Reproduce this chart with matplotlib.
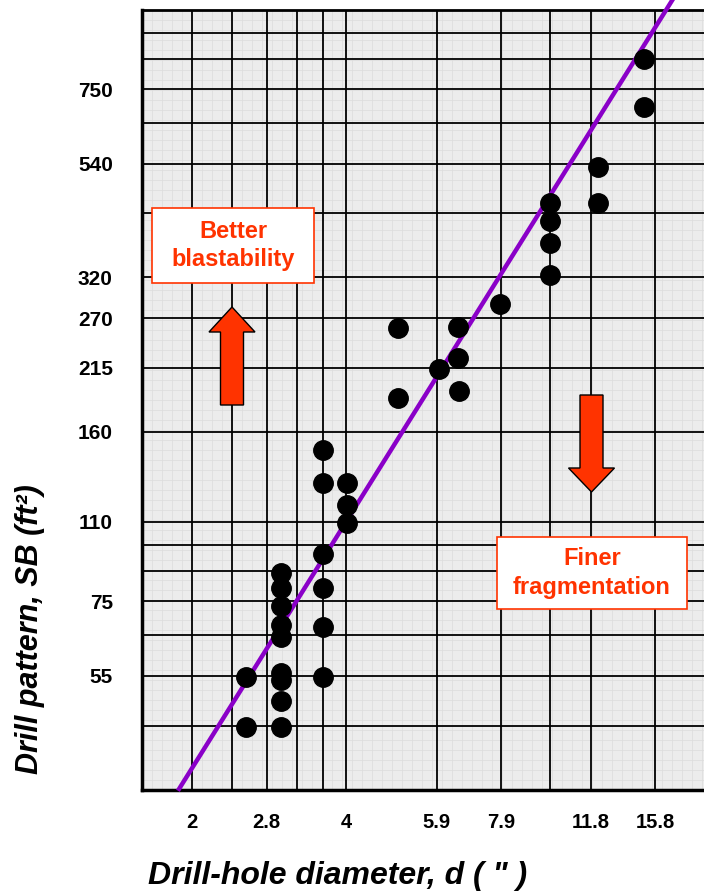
import matplotlib
matplotlib.use("Agg")
import matplotlib.pyplot as plt
from matplotlib.patches import Polygon, Rectangle
import numpy as np

plt.rcParams['font.family'] = ['Liberation Sans', 'DejaVu Sans']

# blast holes: diameter (inches) and drill pattern (ft^2)
hole_d = [15.0, 15.0, 12.2, 12.2, 9.84, 9.84, 9.84, 9.84, 7.84,
          4.97, 6.49, 6.49, 5.96, 4.97, 6.52,
          3.54, 3.54, 3.95, 3.95, 3.95, 3.54,
          2.94, 2.94, 3.54, 2.94, 2.94, 3.54, 2.94,
          2.51, 2.94, 2.94, 2.94, 3.54, 2.51, 2.94]
pattern_sb = [862, 695, 531, 451, 451, 416, 377, 327, 287,
              257, 259, 225, 214, 188, 194,
              149, 128, 128, 116, 107, 93,
              85.5, 80, 80, 73.7, 67.7, 67.1, 64.1,
              53.6, 54.5, 52.8, 48.1, 53.6, 42.8, 42.8]

# trend line end points
line_d = [1.86, 17.0]
line_sb = [32.4, 1124]

# graph paper is metric underneath (mm and m^2), labelled in inches / ft^2
x_grid_mm = [50, 60, 70, 80, 90, 100, 150, 200, 250, 300, 400]
x_tick_mm = [50, 70, 100, 150, 200, 300, 400]
x_tick_labels = ["2", "2.8", "4", "5.9", "7.9", "11.8", "15.8"]
y_grid_m2 = [4, 5, 6, 7, 8, 9, 10, 15, 20, 25, 30, 40, 50, 60, 70, 80, 90]
y_tick_m2 = [5, 7, 10, 15, 20, 25, 30, 50, 70]
y_tick_labels = ["55", "75", "110", "160", "215", "270", "320", "540", "750"]
x_lim_mm = [40, 500]
y_lim_m2 = [3, 100]

MM_PER_IN = 25.4
FT2_PER_M2 = 10.764

W, H = 704, 892
RED = '#ff3300'


def fx(px):
    return px / W


def fy(py):
    return 1 - py / H


fig = plt.figure(figsize=(W / 100, H / 100), dpi=100)
rect = [fx(142), fy(789.6), (705 - 142) / W, (789.6 - 9.7) / H]

# fine graph-paper background
bg = fig.add_axes(rect)
bg.set_zorder(1)
bg.set_facecolor('#ececec')
bg.set_xlim(0, 563)
bg.set_ylim(0, 780)
bg.set_xticks(np.arange(0, 563, 10))
bg.set_yticks(np.arange(0, 780, 10))
bg.grid(True, color='#dcdcdc', lw=0.5)
bg.tick_params(length=0, labelbottom=False, labelleft=False)
for s in bg.spines.values():
    s.set_visible(False)

ax = fig.add_axes(rect)
ax.set_zorder(2)
ax.patch.set_visible(False)
ax.set_xscale('log')
ax.set_yscale('log')
ax.set_xlim(x_lim_mm[0] / MM_PER_IN, x_lim_mm[1] / MM_PER_IN)
ax.set_ylim(y_lim_m2[0] * FT2_PER_M2, y_lim_m2[1] * FT2_PER_M2)

ax.set_xticks([v / MM_PER_IN for v in x_tick_mm])
ax.set_xticklabels(x_tick_labels)
ax.set_xticks([v / MM_PER_IN for v in x_grid_mm], minor=True)
ax.set_yticks([v * FT2_PER_M2 for v in y_tick_m2])
ax.set_yticklabels(y_tick_labels)
ax.set_yticks([v * FT2_PER_M2 for v in y_grid_m2], minor=True)
ax.xaxis.set_minor_formatter(plt.NullFormatter())
ax.yaxis.set_minor_formatter(plt.NullFormatter())
ax.grid(True, which='both', color='black', lw=1.3)
ax.set_axisbelow(True)
ax.tick_params(which='both', length=0)
ax.tick_params(axis='x', pad=17, labelsize=14.5)
ax.tick_params(axis='y', pad=21, labelsize=15)
for lab in ax.get_xticklabels() + ax.get_yticklabels():
    lab.set_fontweight('bold')

ax.spines['left'].set_linewidth(2.5)
ax.spines['bottom'].set_linewidth(2.5)
ax.spines['top'].set_linewidth(2)
ax.spines['right'].set_visible(False)

ax.plot(line_d, line_sb, color='#8a00c8', lw=3.2, clip_on=False, zorder=3)
ax.plot(hole_d, pattern_sb, 'o', color='black', ms=14, zorder=4)

# axis titles
fig.text(fx(338), fy(884), 'Drill-hole diameter, d ( " )', ha='center', va='baseline',
         fontsize=23, fontweight='bold', fontstyle='italic')
fig.text(fx(30), fy(629), 'Drill pattern, SB (ft²)', ha='center', va='center', rotation=90,
         fontsize=22, fontweight='bold', fontstyle='italic')


def label_box(x0, y0, x1, y1, text):
    fig.add_artist(Rectangle((fx(x0), fy(y1)), fx(x1) - fx(x0), fy(y0) - fy(y1),
                             transform=fig.transFigure, facecolor='white',
                             edgecolor=RED, lw=1.2, zorder=5))
    fig.text(fx((x0 + x1) / 2), fy((y0 + y1) / 2), text, ha='center', va='center',
             color=RED, fontsize=17, fontweight='bold', linespacing=1.3, zorder=6)


def block_arrow(cx, tail, base, tip):
    pts = [(cx - 11.5, tail), (cx + 11.5, tail), (cx + 11.5, base), (cx + 23, base),
           (cx, tip), (cx - 23, base), (cx - 11.5, base)]
    fig.add_artist(Polygon([(fx(x), fy(y)) for x, y in pts], closed=True,
                           transform=fig.transFigure, facecolor=RED,
                           edgecolor='black', lw=1, zorder=5))


label_box(152, 208, 314, 283, 'Better\nblastability')
label_box(497, 537, 687, 609, 'Finer\nfragmentation')
block_arrow(232, 405, 332, 307)
block_arrow(591.5, 395, 468, 492)

fig.savefig('out.png', dpi=100)
